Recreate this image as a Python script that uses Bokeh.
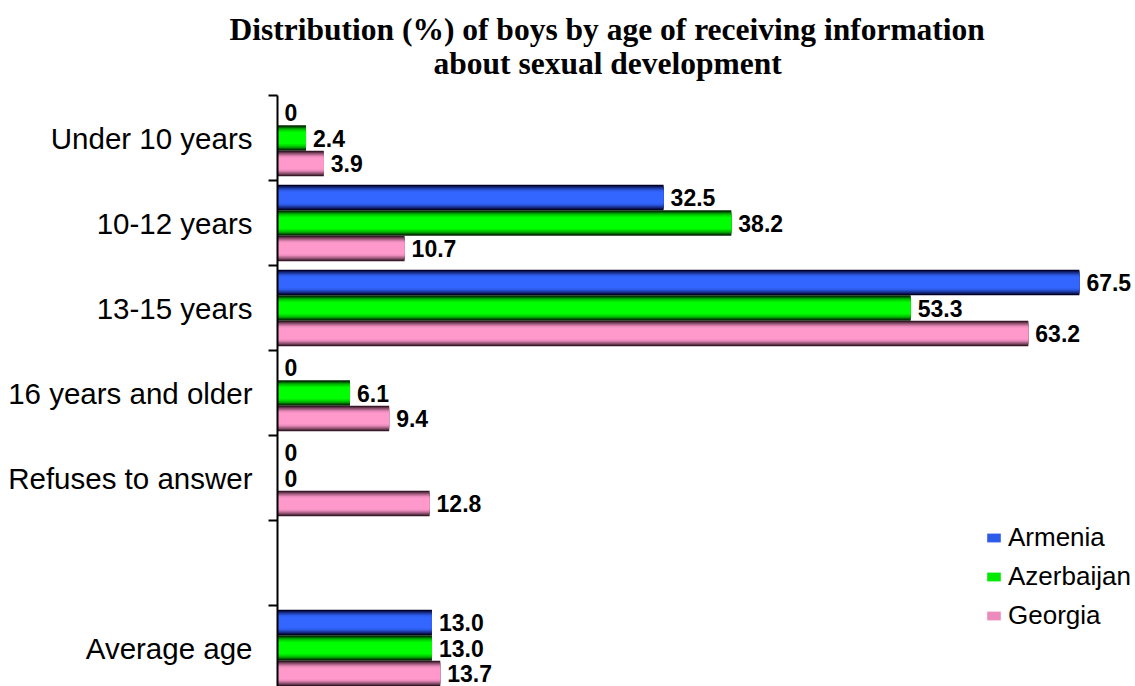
from bokeh.plotting import figure
from bokeh.models import (ColumnDataSource, Range1d, FixedTicker, Title, Legend, LegendItem)
from bokeh.transform import dodge
from bokeh.core.properties import value
from bokeh.embed import file_html
from bokeh.resources import INLINE

# ---- data ----
categories = ["Under 10 years", "10-12 years", "13-15 years", "16 years and older",
              "Refuses to answer", "", "Average age"]
armenia = [0, 32.5, 67.5, 0, 0, None, 13.0]
azerbaijan = [2.4, 38.2, 53.3, 6.1, 0, None, 13.0]
georgia = [3.9, 10.7, 63.2, 9.4, 12.8, None, 13.7]
series_names = ["Armenia", "Azerbaijan", "Georgia"]
title_lines = ["Distribution (%) of boys by age of receiving information",
               "about sexual development"]

# ---- styling ----
dark_cols = [(0, 0, 40), (0, 40, 0), (55, 25, 40)]
bright_cols = [(51, 102, 255), (0, 255, 0), (255, 153, 204)]
offsets = [0.3, 0.0, -0.3]
BAR_H = 0.3
layer_h = [1.0, 0.88, 0.78, 0.68, 0.58, 0.48]
layer_t = [0.0, 0.3, 0.55, 0.75, 0.9, 1.0]

FONT = "Liberation Sans"
n = len(categories)
ypos = [n - 1 - i for i in range(n)]

FIG_W, FIG_H = 1135, 686
LEFT, TOP = 277, 95
frame_w = FIG_W - LEFT
frame_h = FIG_H - TOP
px_per_unit_x = 11.88
band_px = 85.0

p = figure(width=FIG_W, height=FIG_H, output_backend="svg", toolbar_location=None,
           x_axis_location=None,
           x_range=Range1d(0, frame_w / px_per_unit_x),
           y_range=Range1d(n - 0.5 - frame_h / band_px, n - 0.5),
           min_border_left=LEFT, min_border_right=0, min_border_top=TOP,
           min_border_bottom=0)
p.outline_line_color = None
p.xgrid.visible = False
p.ygrid.visible = False
p.background_fill_color = "white"
p.border_fill_color = "white"

yax = p.yaxis[0]
yax.ticker = FixedTicker(ticks=ypos, minor_ticks=[y + 0.5 for y in ypos])
yax.major_label_overrides = {y: c for y, c in zip(ypos, categories)}
yax.major_tick_line_color = None
yax.major_tick_out = 0
yax.major_tick_in = 0
yax.minor_tick_line_color = "black"
yax.minor_tick_line_width = 2
yax.minor_tick_out = 9
yax.minor_tick_in = 0
yax.axis_line_color = "black"
yax.axis_line_width = 2
yax.major_label_standoff = 16
yax.major_label_text_font = FONT
yax.major_label_text_font_size = "29.5px"
yax.major_label_text_color = "black"


def mix(a, b, t):
    return "#%02x%02x%02x" % tuple(int(round(a[k] + (b[k] - a[k]) * t)) for k in range(3))


def fmt(v):
    return "0" if v == 0 else f"{v:.1f}"


legend_items = []
for si, vals in enumerate([armenia, azerbaijan, georgia]):
    ys = [y for y, v in zip(ypos, vals) if v is not None]
    vs = [v for v in vals if v is not None]
    src = ColumnDataSource(dict(y=ys, val=vs, lbl=[fmt(v) for v in vs]))
    rends = []
    for hf, t in zip(layer_h, layer_t):
        r = p.hbar(y=dodge('y', offsets[si]), left=0, right='val', height=BAR_H * hf,
                   fill_color=mix(dark_cols[si], bright_cols[si], t), line_color=None,
                   source=src)
        rends.append(r)
    p.text(x='val', y=dodge('y', offsets[si]), text='lbl', source=src,
           x_offset=7, text_baseline="middle", text_align="left",
           text_font=value(FONT), text_font_style="bold", text_font_size="23px",
           text_color="black")
    legend_items.append(LegendItem(label=series_names[si], renderers=[rends[-2]]))

legend = Legend(items=legend_items, location=(708, 55), orientation="vertical",
                label_text_font=FONT, label_text_font_size="26px", label_text_color="black",
                glyph_width=17, glyph_height=11, label_standoff=6, spacing=8,
                label_height=30, padding=0, margin=0,
                border_line_color=None, background_fill_alpha=0)
p.add_layout(legend, "center")

# two-line title: nearest line added first
TITLE_PX = 31.5
p.add_layout(Title(text=title_lines[1], align="left", offset=156,
                   text_font="Liberation Serif", text_font_style="bold",
                   text_font_size=f"{TITLE_PX}px", text_color="black",
                   standoff=30), "above")
p.add_layout(Title(text=title_lines[0], align="left", offset=-48,
                   text_font="Liberation Serif", text_font_style="bold",
                   text_font_size=f"{TITLE_PX}px", text_color="black",
                   standoff=-36), "above")

open("out.html", "w").write(file_html(p, INLINE))
